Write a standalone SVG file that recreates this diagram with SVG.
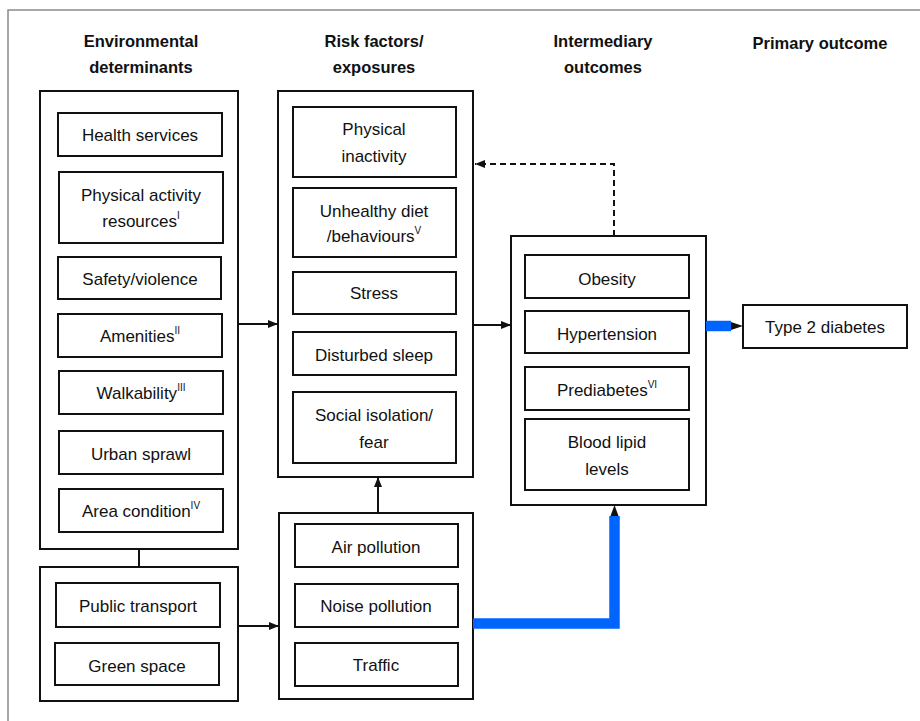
<svg xmlns="http://www.w3.org/2000/svg" width="920" height="721" viewBox="0 0 920 721">
<defs>
<style>
.frame{fill:none;stroke:#8a8a8a;stroke-width:1.5}
.box{fill:#fff;stroke:#111;stroke-width:2}
.t{font-family:"Liberation Sans",Arial,sans-serif;font-size:17px;fill:#111;text-anchor:middle}
.h{font-family:"Liberation Sans",Arial,sans-serif;font-size:16.5px;font-weight:bold;fill:#111;text-anchor:middle}
.sup{font-size:10px}
.conn{fill:none;stroke:#111;stroke-width:2}
.dash{fill:none;stroke:#111;stroke-width:2;stroke-dasharray:6,4}
.blue{fill:none;stroke:#0064ff;stroke-width:10.5}
.head{fill:#111}
</style>
<marker id="ah" markerWidth="10" markerHeight="8" refX="10" refY="4" orient="auto" markerUnits="userSpaceOnUse">
<path d="M0,0 L10,4 L0,8 z" fill="#111"/>
</marker>
</defs>
<rect width="920" height="721" fill="#fff"/>
<rect class="frame" x="8" y="10" width="1000" height="1000"/>

<g id="headers">
<text class="h" x="141" y="47">Environmental</text>
<text class="h" x="141" y="73">determinants</text>
<text class="h" x="374" y="47">Risk factors/</text>
<text class="h" x="374" y="73">exposures</text>
<text class="h" x="603" y="47">Intermediary</text>
<text class="h" x="603" y="73">outcomes</text>
<text class="h" x="820" y="49">Primary outcome</text>
</g>

<g id="env-box"><rect class="box" x="40" y="91" width="198" height="458"/></g>
<g id="health-services"><rect class="box" x="58" y="113" width="164" height="43"/><text class="t" x="140" y="141">Health services</text></g>
<g id="pa-resources"><rect class="box" x="59" y="172" width="164" height="71"/><text class="t" x="141" y="201">Physical activity</text><text class="t" x="141" y="227">resources<tspan class="sup" dy="-8">I</tspan></text></g>
<g id="safety"><rect class="box" x="58" y="257" width="163" height="42"/><text class="t" x="140" y="285">Safety/violence</text></g>
<g id="amenities"><rect class="box" x="58" y="314" width="164" height="43"/><text class="t" x="140" y="342">Amenities<tspan class="sup" dy="-8">II</tspan></text></g>
<g id="walkability"><rect class="box" x="59" y="371" width="164" height="43"/><text class="t" x="141" y="399">Walkability<tspan class="sup" dy="-8">III</tspan></text></g>
<g id="urban-sprawl"><rect class="box" x="59" y="431" width="164" height="43"/><text class="t" x="141" y="460">Urban sprawl</text></g>
<g id="area-condition"><rect class="box" x="59" y="489" width="164" height="43"/><text class="t" x="141" y="517">Area condition<tspan class="sup" dy="-8">IV</tspan></text></g>

<g id="transport-box"><rect class="box" x="40" y="567" width="198" height="134"/></g>
<g id="public-transport"><rect class="box" x="56" y="583" width="164" height="44"/><text class="t" x="138" y="612">Public transport</text></g>
<g id="green-space"><rect class="box" x="55" y="643" width="164" height="42"/><text class="t" x="137" y="672">Green space</text></g>

<g id="risk-box"><rect class="box" x="278" y="91" width="195" height="386"/></g>
<g id="physical-inactivity"><rect class="box" x="293" y="107" width="163" height="70"/><text class="t" x="374" y="135">Physical</text><text class="t" x="374" y="162">inactivity</text></g>
<g id="unhealthy-diet"><rect class="box" x="293" y="188" width="163" height="69"/><text class="t" x="374" y="217">Unhealthy diet</text><text class="t" x="374" y="242">/behaviours<tspan class="sup" dy="-8">V</tspan></text></g>
<g id="stress"><rect class="box" x="293" y="272" width="163" height="42"/><text class="t" x="374" y="299">Stress</text></g>
<g id="disturbed-sleep"><rect class="box" x="293" y="332" width="163" height="43"/><text class="t" x="374" y="361">Disturbed sleep</text></g>
<g id="social-isolation"><rect class="box" x="293" y="392" width="163" height="71"/><text class="t" x="374" y="421">Social isolation/</text><text class="t" x="374" y="448">fear</text></g>

<g id="pollution-box"><rect class="box" x="279" y="513" width="194" height="186"/></g>
<g id="air-pollution"><rect class="box" x="295" y="524" width="163" height="43"/><text class="t" x="376" y="553">Air pollution</text></g>
<g id="noise-pollution"><rect class="box" x="295" y="584" width="163" height="43"/><text class="t" x="376" y="612">Noise pollution</text></g>
<g id="traffic"><rect class="box" x="295" y="643" width="163" height="43"/><text class="t" x="376" y="671">Traffic</text></g>

<g id="intermediary-box"><rect class="box" x="511" y="236" width="195" height="269"/></g>
<g id="obesity"><rect class="box" x="525" y="255" width="164" height="43"/><text class="t" x="607" y="285">Obesity</text></g>
<g id="hypertension"><rect class="box" x="525" y="311" width="164" height="42"/><text class="t" x="607" y="340">Hypertension</text></g>
<g id="prediabetes"><rect class="box" x="525" y="367" width="164" height="43"/><text class="t" x="607" y="396">Prediabetes<tspan class="sup" dy="-8">VI</tspan></text></g>
<g id="blood-lipid"><rect class="box" x="525" y="419" width="164" height="71"/><text class="t" x="607" y="448">Blood lipid</text><text class="t" x="607" y="475">levels</text></g>

<g id="type2-diabetes"><rect class="box" x="743" y="305" width="164" height="43"/><text class="t" x="825" y="333">Type 2 diabetes</text></g>

<g id="connectors">
<line class="conn" x1="139" y1="549" x2="139" y2="567"/>
<line class="conn" x1="238" y1="324" x2="278" y2="324" marker-end="url(#ah)"/>
<line class="conn" x1="238" y1="626" x2="279" y2="626" marker-end="url(#ah)"/>
<line class="conn" x1="378" y1="513" x2="378" y2="477" marker-end="url(#ah)"/>
<line class="conn" x1="473" y1="325" x2="511" y2="325" marker-end="url(#ah)"/>
<path class="dash" d="M614,236 V164 H475" marker-end="url(#ah)"/>
<path class="blue" d="M706,326 H731"/>
<path class="head" d="M731,322 L743,326 L731,330 z"/>
<path class="blue" d="M473,623.5 H614.5 V516"/>
<path class="head" d="M610.5,516 L614.5,505 L618.5,516 z"/>
</g>
</svg>
